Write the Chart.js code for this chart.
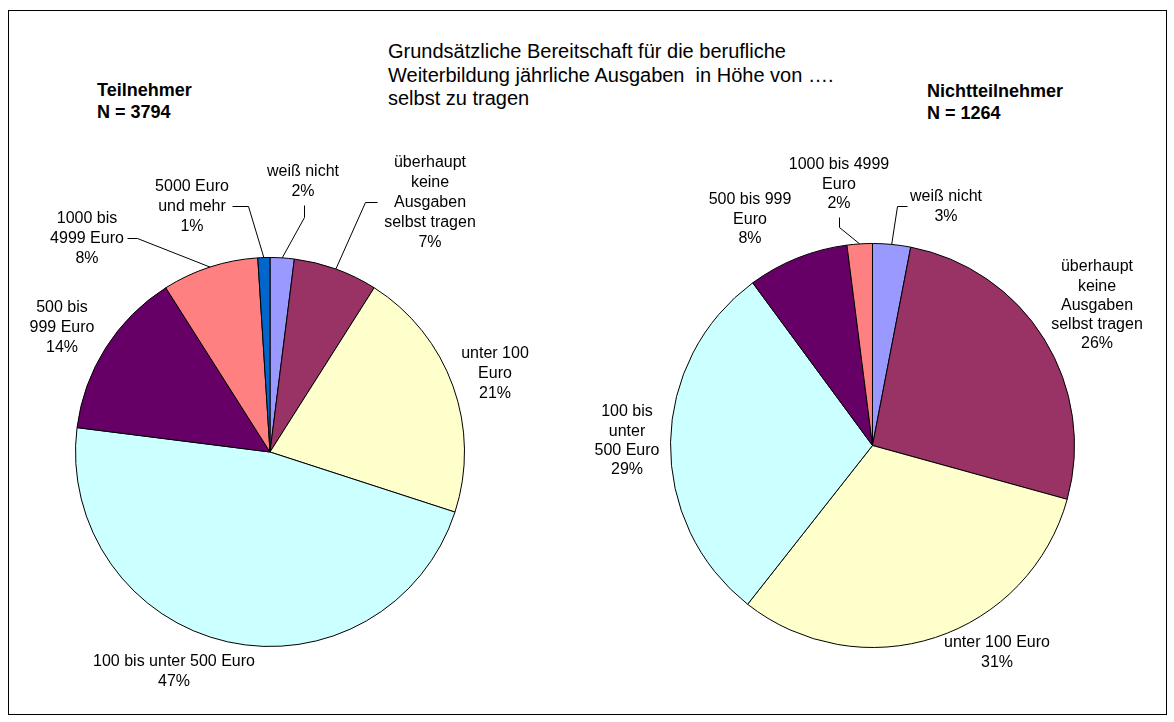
<!DOCTYPE html>
<html>
<head>
<meta charset="utf-8">
<script src="https://cdn.jsdelivr.net/npm/chart.js@4"></script>
<style>
  body { margin: 0; background: #fff; }
  #wrap { position: relative; width: 1174px; height: 722px; font-family: "Liberation Sans", Arial, sans-serif; color: #000; }
  #frame { position: absolute; left: 8px; top: 10px; width: 1157px; height: 703px; border: 1px solid #000; }
  canvas { position: absolute; left: 0; top: 0; }
  .title { position: absolute; left: 388px; top: 40px; font-size: 20px; line-height: 23.5px; white-space: pre; }
  .group { position: absolute; font-size: 18px; font-weight: bold; line-height: 22px; white-space: pre; }
</style>
</head>
<body>
<div id="wrap">
  <div id="frame"></div>
  <div class="title">Grundsätzliche Bereitschaft für die berufliche
Weiterbildung jährliche Ausgaben  in Höhe von ….
selbst zu tragen</div>
  <div class="group" style="left:97px; top:79px;">Teilnehmer
N = 3794</div>
  <div class="group" style="left:927px; top:80px;">Nichtteilnehmer
N = 1264</div>
  <canvas id="leftPie" width="1174" height="722"></canvas>
  <canvas id="rightPie" width="1174" height="722"></canvas>
</div>
<script>
// categories (label lines as shown in each pie)
const leftNames = [
    ["weiß nicht"],
    ["überhaupt", "keine", "Ausgaben", "selbst tragen"],
    ["unter 100", "Euro"],
    ["100 bis unter 500 Euro"],
    ["500 bis", "999 Euro"],
    ["1000 bis", "4999 Euro"],
    ["5000 Euro", "und mehr"]
];
const leftValues = [2, 7, 21, 47, 14, 8, 1];

const rightNames = [
    ["weiß nicht"],
    ["überhaupt", "keine", "Ausgaben", "selbst tragen"],
    ["unter 100 Euro"],
    ["100 bis", "unter", "500 Euro"],
    ["500 bis 999", "Euro"],
    ["1000 bis 4999", "Euro"]
];
const rightValues = [3, 26, 31, 29, 8, 2];

const sliceColors = ["#9999FF", "#993366", "#FFFFCC", "#CCFFFF", "#660066", "#FF8080", "#0066CC"];

// label placement (page pixels): centre x, first line y, leader bend points
const leftLabelPos = [
    { x: 303, y: 172, leader: [[304, 205], [304, 217]] },
    { x: 430, y: 163, leader: [[377, 202], [365, 202]] },
    { x: 495, y: 354 },
    { x: 174, y: 662 },
    { x: 62, y: 308 },
    { x: 87, y: 219, leader: [[127, 238], [137, 238]] },
    { x: 192, y: 187, leader: [[232, 206], [248, 206]] }
];
const rightLabelPos = [
    { x: 946, y: 197, leader: [[907, 206], [897, 206]] },
    { x: 1097, y: 267 },
    { x: 997, y: 643 },
    { x: 627, y: 412 },
    { x: 750, y: 200 },
    { x: 839, y: 165, leader: [[839, 217], [839, 227]] }
];

const sliceLabels = {
    id: "sliceLabels",
    afterDraw(chart, args, opts) {
        const ctx = chart.ctx;
        const meta = chart.getDatasetMeta(0);
        const values = chart.data.datasets[0].data;
        ctx.save();
        ctx.fillStyle = "#000";
        ctx.strokeStyle = "#000";
        ctx.lineWidth = 1;
        ctx.font = "16px 'Liberation Sans', Arial, sans-serif";
        ctx.textAlign = "center";
        ctx.textBaseline = "middle";
        opts.names.forEach((lines, i) => {
            const pos = opts.positions[i];
            const all = lines.concat([values[i] + "%"]);
            all.forEach((t, k) => ctx.fillText(t, pos.x, pos.y + k * opts.lineHeight));
            if (pos.leader) {
                const arc = meta.data[i].getProps(["x", "y", "startAngle", "endAngle", "outerRadius"], true);
                const mid = (arc.startAngle + arc.endAngle) / 2;
                const ex = arc.x + Math.cos(mid) * arc.outerRadius;
                const ey = arc.y + Math.sin(mid) * arc.outerRadius;
                ctx.beginPath();
                ctx.moveTo(pos.leader[0][0] + 0.5, pos.leader[0][1] + 0.5);
                for (let k = 1; k < pos.leader.length; k++) {
                    ctx.lineTo(pos.leader[k][0] + 0.5, pos.leader[k][1] + 0.5);
                }
                ctx.lineTo(ex, ey);
                ctx.stroke();
            }
        });
        ctx.restore();
    }
};

function makePie(id, names, values, positions, padding, lineHeight) {
    return new Chart(document.getElementById(id).getContext("2d"), {
        type: "pie",
        data: {
            labels: names.map(n => n.join(" ")),
            datasets: [{
                data: values,
                backgroundColor: sliceColors.slice(0, values.length),
                borderColor: "#000",
                borderWidth: 1
            }]
        },
        options: {
            responsive: false,
            animation: false,
            events: [],
            layout: { padding: padding },
            plugins: {
                legend: { display: false },
                tooltip: { enabled: false },
                sliceLabels: { names: names, positions: positions, lineHeight: lineHeight }
            }
        },
        plugins: [sliceLabels]
    });
}

makePie("leftPie", leftNames, leftValues, leftLabelPos,
    { left: 75, top: 257, right: 709, bottom: 75 }, 19.8);
makePie("rightPie", rightNames, rightValues, rightLabelPos,
    { left: 670, top: 243, right: 99, bottom: 74 }, 19.2);
</script>
</body>
</html>
